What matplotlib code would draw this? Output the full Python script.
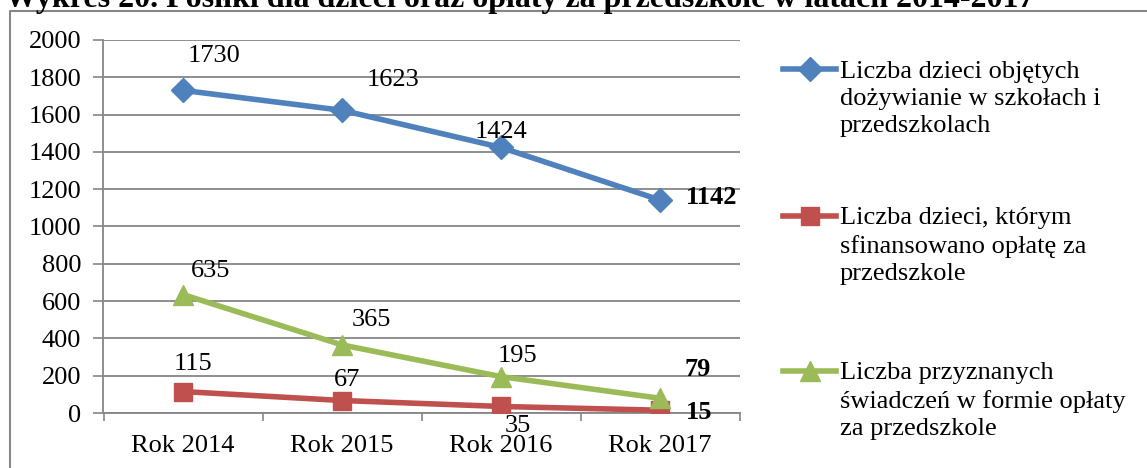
import matplotlib.pyplot as plt
from matplotlib.lines import Line2D

plt.rcParams['font.family'] = ['Liberation Serif', 'DejaVu Serif']

categories = ['Rok 2014', 'Rok 2015', 'Rok 2016', 'Rok 2017']
dozywianie = [1730, 1623, 1424, 1142]
oplata_przedszkole = [115, 67, 35, 15]
swiadczenia = [635, 365, 195, 79]

series_names = [
    'Liczba dzieci objętych\ndożywianie w szkołach i\nprzedszkolach',
    'Liczba dzieci, którym\nsfinansowano opłatę za\nprzedszkole',
    'Liczba przyznanych\nświadczeń w formie opłaty\nza przedszkole',
]

blue = '#4F81BD'
red = '#C0504D'
green = '#9BBB59'
grid_col = '#868686'
FS = 19

fig = plt.figure(figsize=(11.47, 4.68), dpi=100)
ax = fig.add_axes([103.5 / 1147, 1 - 413 / 468, 636 / 1147, 373 / 468])

x = list(range(len(categories)))
ax.plot(x, dozywianie, color=blue, lw=4, marker='D', ms=12, zorder=3)
ax.plot(x, oplata_przedszkole, color=red, lw=4, marker='s', ms=13, zorder=3)
ax.plot(x, swiadczenia, color=green, lw=4, marker='^', ms=15, zorder=3)

ax.set_xlim(-0.5, 3.5)
ax.set_ylim(0, 2000)
ax.set_yticks(range(0, 2001, 200))
ax.set_xticks(x)
ax.set_xticklabels(categories)
ax.set_xticks([-0.5, 0.5, 1.5, 2.5, 3.5], minor=True)
ax.tick_params(axis='x', which='major', length=0, labelsize=FS, pad=16)
ax.tick_params(axis='x', which='minor', length=6, color=grid_col, width=1.2)
ax.tick_params(axis='y', length=7, color=grid_col, width=1.2, labelsize=FS, pad=9)
ax.yaxis.grid(True, color=grid_col, lw=1.3)
ax.set_axisbelow(True)
for s in ['top', 'right']:
    ax.spines[s].set_visible(False)
for s in ['left', 'bottom']:
    ax.spines[s].set_color(grid_col)
    ax.spines[s].set_linewidth(1.3)

lab = dict(fontsize=FS, ha='center', va='center')
# data labels (offsets in points)
offs_blue = [(22, 25), (37, 22), (0, 11), (37, 2)]
offs_red = [(7, 20), (4, 15), (12, -14), (28, -2)]
offs_green = [(20, 17), (21, 18), (12, 15), (27, 21)]
for i in x:
    w = 'bold' if i == 3 else 'normal'
    ax.annotate(str(dozywianie[i]), (i, dozywianie[i]), xytext=offs_blue[i],
                textcoords='offset points', fontweight=w, **lab)
    ax.annotate(str(oplata_przedszkole[i]), (i, oplata_przedszkole[i]), xytext=offs_red[i],
                textcoords='offset points', fontweight=w, **lab)
    ax.annotate(str(swiadczenia[i]), (i, swiadczenia[i]), xytext=offs_green[i],
                textcoords='offset points', fontweight=w, **lab)

# legend
leg_y = [99, 246, 401]
colors = [blue, red, green]
markers = ['D', 's', '^']
msizes = [12, 13, 15]
for yy, c, m, ms, name in zip(leg_y, colors, markers, msizes, series_names):
    yf = 1 - yy / 468
    first_line = 1 - (yy - 30) / 468
    fig.add_artist(Line2D([783 / 1147, 836 / 1147], [first_line, first_line],
                          color=c, lw=4, transform=fig.transFigure))
    fig.add_artist(Line2D([809.5 / 1147], [first_line], color=c, marker=m, ms=ms,
                          transform=fig.transFigure))
    fig.text(840 / 1147, yf, name, fontsize=FS, ha='left', va='center', linespacing=1.3)

# outer frame (top and left)
fig.add_artist(Line2D([10 / 1147, 10 / 1147, 1.0], [0, 1 - 11 / 468, 1 - 11 / 468],
                      color=grid_col, lw=1.5, transform=fig.transFigure))

# title, clipped at the top of the picture
fig.text(5 / 1147, 1 + 1 / 468, 'Wykres 20. Posiłki dla dzieci oraz opłaty za przedszkole w latach 2014-2017',
         fontsize=23, fontweight='bold', ha='left', va='center')

fig.savefig('out.png', dpi=100)
